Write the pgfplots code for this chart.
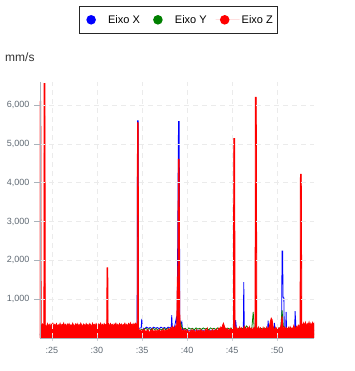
\documentclass[border=0pt]{standalone}
\usepackage{pgfplots}
\pgfplotsset{compat=1.18}
\usepackage{fontspec}
\setmainfont{Liberation Sans}
\definecolor{tickgray}{RGB}{95,105,115}
\definecolor{axgray}{RGB}{170,178,186}
\definecolor{gridgray}{RGB}{235,235,235}
\begin{document}
\begin{tikzpicture}
\path (-40pt,-33pt) rectangle (314pt,338pt);
\begin{axis}[
  scale only axis,
  width=274pt, height=256pt,
  xmin=23.67, xmax=54.1,
  ymin=0, ymax=6600,
  axis lines=left,
  axis line style={axgray, line width=0.9pt, -},
  axis on top,
  xtick={25,30,35,40,45,50},
  xticklabels={:25,:30,:35,:40,:45,:50},
  ytick={1000,2000,3000,4000,5000,6000},
  grid=major,
  major grid style={gridgray, line width=0.7pt, dash pattern=on 5pt off 4pt},
  x tick style={axgray!60, line width=0.8pt},
  y tick style={axgray, line width=0.8pt},
  xtick align=center,
  ytick align=outside,
  major tick length=6pt,
  tick label style={font=\fontsize{9}{11}\selectfont, text=tickgray},
  yticklabel style={xshift=-1pt},
  xticklabel style={yshift=-3pt},
  /pgf/number format/.cd, 1000 sep={,}, assume math mode=true,
  /pgfplots/.cd,
  legend columns=3,
  legend style={at={(0.5055,1.1875)}, anchor=south, draw=black!85, line width=0.9pt,
    font=\fontsize{11}{13}\selectfont, inner xsep=3pt, inner ysep=7pt,
    /tikz/every even column/.append style={column sep=7pt}},
  legend cell align=left,
  clip=true,
]
\addplot[blue, line width=0.8pt, legend image code/.code={\path[draw=none] (-9pt,0) -- (15pt,0); \fill[blue, draw=none] (0pt,0) circle (4.8pt);}] coordinates {
(23.67,100)(34.45,100)(34.5,5600)(34.57,5600)(34.62,250)(34.9,260)(34.97,490)(35.05,260)(35.3,240)(35.5,280)(35.7,250)(35.9,270)(36.1,240)(36.3,280)(36.5,250)(36.7,270)(36.9,240)(37.1,280)(37.3,250)(37.5,270)(37.7,240)(37.9,280)(38.1,260)(38.25,280)(38.3,590)(38.36,280)(38.6,270)(38.8,510)(38.9,300)(39.05,5580)(39.13,5580)(39.2,300)(39.42,420)(39.5,220)(40,200)(45.3,200)(45.4,460)(45.5,200)(46.25,200)(46.3,1443)(46.36,200)(48.95,200)(49.0,450)(49.1,200)(49.65,200)(49.7,390)(49.8,200)(50.5,200)(50.55,2240)(50.62,2240)(50.66,1050)(50.75,1050)(50.8,200)(50.95,200)(51.0,675)(51.06,200)(51.95,200)(52.0,690)(52.06,450)(52.1,200)(54.1,200)
};
\addlegendentry{Eixo X}
\addplot[black!50!green, line width=0.8pt, legend image code/.code={\path[draw=none] (-9pt,0) -- (15pt,0); \fill[black!50!green, draw=none] (0pt,0) circle (4.8pt);}] coordinates {
(23.67,80)(34.6,80)(34.8,200)(35.0,230)(35.2,210)(35.4,250)(35.6,220)(35.8,240)(36.0,210)(36.2,250)(36.4,220)(36.6,240)(36.8,200)(37.0,230)(37.2,210)(37.4,250)(37.6,220)(37.8,240)(38.0,210)(38.2,250)(38.4,230)(38.6,260)(38.8,240)(39.0,280)(39.2,300)(39.3,400)(39.4,280)(39.6,230)(39.8,250)(40.0,210)(40.2,260)(40.4,230)(40.6,250)(40.8,210)(41.0,260)(41.2,230)(41.4,250)(41.6,220)(41.8,260)(42.0,230)(42.2,250)(42.4,210)(42.6,260)(42.8,230)(43.0,250)(43.2,220)(43.4,260)(43.6,230)(43.8,250)(44.0,220)(44.2,260)(44.4,230)(44.6,250)(44.8,220)(45.0,260)(45.2,230)(45.4,250)(45.6,220)(45.8,260)(46.0,230)(46.2,250)(46.4,240)(46.6,310)(46.8,260)(47.0,230)(47.2,260)(47.35,675)(47.45,260)(47.6,230)(47.8,260)(48.0,220)(48.2,250)(48.4,230)(48.6,260)(48.8,220)(49.0,250)(49.2,230)(49.4,260)(49.6,230)(49.8,250)(50.0,220)(50.2,260)(50.4,240)(50.55,720)(50.7,300)(50.9,250)(51.1,230)(51.3,260)(51.5,230)(51.7,250)(51.9,240)(52.1,260)(52.3,230)(52.5,250)(52.7,230)(52.9,100)(54.1,100)
};
\addlegendentry{Eixo Y}
\addplot[red, fill=red, line width=0.8pt, legend image code/.code={\path[draw=none] (-9pt,0) -- (15pt,0); \fill[red, draw=none] (0pt,0) circle (4.8pt);}] coordinates {
(23.67,0)(23.67,6100)(23.76,6100)(23.8,340)(23.85,300)(23.95,360)(24.05,320)(24.1,350)(24.12,6560)(24.22,6560)(24.26,330)(24.4,290)(24.5,370)(24.6,310)(24.7,350)(24.8,280)(24.9,360)(25.0,330)(25.1,380)(25.2,300)(25.3,350)(25.4,320)(25.5,370)(25.6,290)(25.7,340)(25.8,310)(25.9,375)(26.0,300)(26.1,350)(26.2,330)(26.3,385)(26.4,310)(26.5,350)(26.6,280)(26.7,360)(26.8,320)(26.9,370)(27.0,300)(27.1,340)(27.2,310)(27.3,380)(27.4,330)(27.5,290)(27.6,360)(27.7,320)(27.8,370)(27.9,300)(28.0,350)(28.1,310)(28.2,380)(28.3,330)(28.4,290)(28.5,360)(28.6,340)(28.7,300)(28.8,370)(28.9,320)(29.0,350)(29.1,290)(29.2,370)(29.3,330)(29.4,300)(29.5,380)(29.6,320)(29.7,350)(29.8,300)(29.9,370)(30.0,330)(30.1,290)(30.2,360)(30.3,320)(30.4,380)(30.5,310)(30.6,350)(30.7,300)(30.8,370)(30.9,330)(31.0,350)(31.08,320)(31.11,1810)(31.2,1810)(31.23,330)(31.3,360)(31.4,300)(31.5,370)(31.6,320)(31.7,350)(31.8,290)(31.9,360)(32.0,330)(32.1,380)(32.2,310)(32.3,350)(32.4,300)(32.5,370)(32.6,320)(32.7,360)(32.8,290)(32.9,350)(33.0,330)(33.1,380)(33.2,310)(33.3,350)(33.4,300)(33.5,370)(33.6,320)(33.7,390)(33.8,330)(33.9,360)(34.0,310)(34.1,370)(34.2,330)(34.3,380)(34.4,340)(34.47,360)(34.49,5550)(34.58,5550)(34.62,250)(34.75,180)
(34.85,200)(34.95,140)(35.05,210)(35.15,160)(35.25,220)(35.35,130)(35.45,190)(35.55,150)(35.65,220)(35.75,170)(35.85,120)(35.95,200)(36.05,160)(36.15,230)(36.25,140)(36.35,190)(36.45,150)(36.55,210)(36.65,130)(36.75,200)(36.85,170)(36.95,220)(37.05,140)(37.15,190)(37.25,160)(37.35,230)(37.45,150)(37.55,200)(37.65,170)(37.75,220)(37.85,160)(37.95,240)(38.05,190)(38.15,260)(38.25,210)(38.35,300)(38.45,230)(38.55,280)(38.65,220)(38.75,310)(38.85,260)(38.92,1570)(38.98,1570)(39.03,4607)(39.13,4607)(39.18,700)(39.25,350)(39.35,250)(39.45,200)(39.55,170)(39.65,230)(39.75,150)
(39.85,200)(39.95,130)(40.05,210)(40.15,160)(40.25,120)(40.35,190)(40.45,150)(40.55,220)(40.65,140)(40.75,200)(40.85,170)(40.95,120)(41.05,210)(41.15,150)(41.25,190)(41.35,130)(41.45,220)(41.55,160)(41.65,200)(41.75,140)(41.85,180)(41.95,130)(42.05,220)(42.15,170)(42.25,250)(42.35,150)(42.45,200)(42.55,140)(42.65,190)(42.75,160)(42.85,220)(42.95,130)(43.05,200)(43.15,170)(43.25,230)(43.35,150)(43.45,210)(43.55,260)(43.65,200)(43.75,280)(43.85,230)(43.95,330)(44.05,380)(44.15,300)(44.25,240)(44.35,190)(44.45,250)(44.55,170)(44.65,220)(44.75,190)(44.85,250)(44.95,200)(45.05,240)(45.15,220)
(45.19,5145)(45.29,5145)(45.33,230)(45.4,180)(45.45,270)(45.55,200)(45.65,250)(45.75,170)(45.85,280)(45.95,210)(46.05,260)(46.15,190)(46.25,240)(46.35,300)(46.45,200)(46.55,260)(46.65,180)(46.75,270)(46.85,220)(46.95,290)(47.05,200)(47.15,250)(47.25,180)(47.35,260)(47.45,220)(47.55,300)(47.59,6205)(47.69,6205)(47.75,250)(47.85,200)(47.95,280)(48.05,190)(48.15,260)(48.25,220)(48.35,170)(48.45,270)(48.55,210)(48.65,250)(48.75,180)(48.85,280)(48.95,220)(49.05,260)(49.15,300)(49.25,420)(49.35,510)(49.45,470)(49.55,300)(49.65,250)(49.75,200)(49.85,270)(49.95,220)(50.05,290)(50.15,200)(50.25,260)(50.35,220)(50.45,350)(50.55,560)(50.65,300)(50.75,230)(50.85,280)(50.95,200)(51.05,260)(51.15,180)(51.25,270)(51.35,210)(51.45,290)(51.55,230)(51.65,260)(51.75,200)(51.85,320)(51.95,270)(52.05,230)(52.15,300)(52.25,250)(52.35,330)(52.45,280)(52.55,350)(52.59,4222)(52.69,4222)(52.75,380)(52.85,300)(52.95,390)(53.05,320)(53.15,400)(53.25,290)(53.35,370)(53.45,330)(53.55,410)(53.65,300)(53.75,380)(53.85,320)(53.95,400)(54.05,340)(54.1,370)(54.1,0)
} \closedcycle;
\addlegendentry{Eixo Z}
\end{axis}
\node[anchor=west, inner sep=0pt, font=\fontsize{12}{14}\selectfont, text=black!80] at (-35pt,281pt) {mm/s};
\end{tikzpicture}
\end{document}
